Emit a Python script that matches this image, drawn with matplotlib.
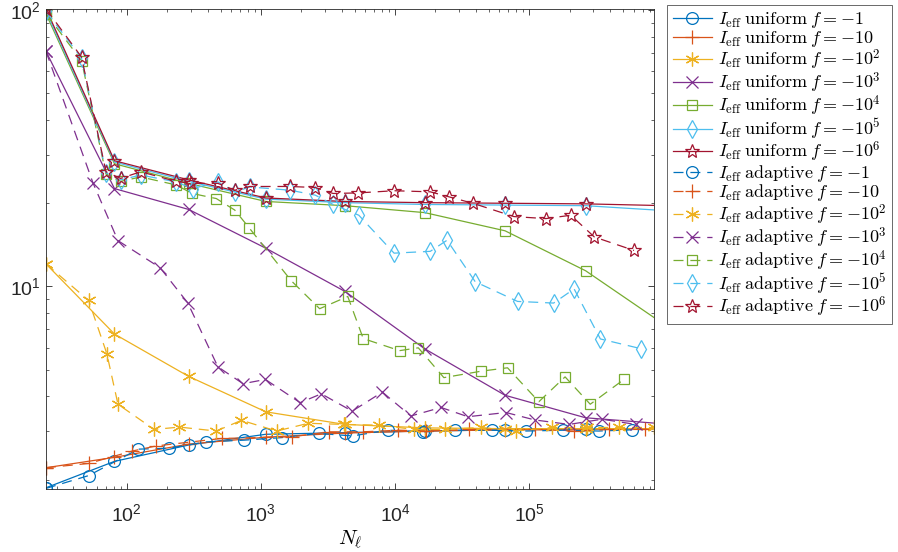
import matplotlib
matplotlib.use('Agg')
import matplotlib.pyplot as plt
from matplotlib.font_manager import FontProperties

plt.rcParams['font.family'] = ['Liberation Sans', 'DejaVu Sans']

# uniform refinement
un_N = [25, 81, 289, 1089, 4225, 16641, 66049, 263169, 1050625]
un_I1 = [1.87, 2.33, 2.67, 2.92, 2.96, 3.00, 3.03, 3.05, 3.06]
un_I10 = [2.21, 2.41, 2.69, 2.85, 2.95, 3.00, 3.03, 3.05, 3.06]
un_I100 = [12.07, 6.73, 4.73, 3.52, 3.17, 3.08, 3.06, 3.06, 3.06]
un_I1e3 = [70.9, 22.6, 19.0, 13.75, 9.6, 5.95, 4.04, 3.35, 3.18]
un_I1e4 = [97, 27.8, 23.6, 20.3, 19.6, 18.5, 15.9, 11.4, 7.2]
un_I1e5 = [99, 28.2, 24.0, 20.7, 20.1, 19.8, 19.7, 19.6, 18.8]
un_I1e6 = [101, 28.5, 24.3, 20.9, 20.3, 20.1, 20.0, 19.9, 19.6]

# adaptive refinement
ad_N1 = [25, 52, 122, 207, 391, 750, 1430, 2690, 4820, 8810, 16100, 28000,
         52700, 94000, 180000, 330000, 586000]
ad_I1 = [1.86, 2.07, 2.58, 2.60, 2.74, 2.78, 2.84, 2.94, 2.88, 3.02, 2.98,
         3.02, 3.02, 3.00, 3.02, 3.00, 3.03]
ad_N10 = [25, 52, 110, 166, 509, 1710, 3240, 5730, 10500, 17000, 35700,
          110000, 215000, 394000, 735000]
ad_I10 = [2.21, 2.29, 2.54, 2.65, 2.82, 2.86, 2.98, 2.98, 3.02, 3.00, 3.04,
          3.04, 3.00, 3.04, 3.04]
ad_N100 = [25, 52, 71, 86, 160, 247, 465, 716, 1310, 2260, 4140, 7590, 13900,
           23700, 44000, 79400, 147000, 270000, 466000, 850000]
ad_I100 = [12.07, 8.9, 5.72, 3.75, 3.04, 3.10, 3.00, 3.28, 3.00, 3.20, 3.17,
           3.15, 3.04, 3.04, 3.09, 3.00, 3.09, 3.09, 3.09, 3.09]
ad_N1e3 = [25, 56, 86, 177, 285, 478, 736, 1080, 1960, 2820, 4790, 8040,
           13100, 22000, 34900, 67100, 110000, 198000, 349000, 621000]
ad_I1e3 = [70.9, 23.7, 14.65, 11.7, 8.72, 5.12, 4.45, 4.61, 3.80, 4.09, 3.54,
           4.15, 3.40, 3.65, 3.38, 3.50, 3.29, 3.17, 3.31, 3.17]
ad_N1e4 = [25, 46, 70, 90, 127, 233, 307, 465, 638, 817, 1680, 2740, 4440,
           5790, 10800, 14900, 23100, 44000, 68900, 118000, 185000, 285000,
           508000]
ad_I1e4 = [97, 65.6, 25.5, 24.0, 24.9, 23.3, 21.7, 20.8, 18.9, 16.3, 10.5,
           8.31, 9.2, 6.48, 5.86, 6.0, 4.68, 4.94, 5.08, 3.83, 4.71, 3.75, 4.61]
ad_N1e5 = [25, 46, 70, 90, 127, 233, 310, 478, 638, 827, 1650, 2540, 3450,
           5370, 9830, 18300, 24400, 39600, 81800, 152000, 216000, 339000,
           677000]
ad_I1e5 = [99, 67, 25.8, 24.3, 25.3, 23.9, 22.6, 23.9, 22.0, 22.9, 22.3, 21.4,
           19.8, 18.1, 13.2, 13.4, 14.7, 10.4, 8.83, 8.71, 9.8, 6.46, 5.96]
ad_N1e6 = [25, 46, 70, 90, 127, 233, 302, 478, 638, 827, 1650, 2540, 3450,
           5320, 9830, 18300, 25200, 38000, 76800, 133000, 204000, 306000,
           604000]
ad_I1e6 = [101, 67.6, 26.0, 24.6, 26.0, 24.0, 23.6, 23.6, 22.3, 23.0, 23.0,
           22.8, 21.7, 21.8, 22.2, 22.0, 21.1, 20.0, 17.9, 17.6, 18.1, 15.1,
           13.5]

f_labels = ['-1', '-10', '-10^{2}', '-10^{3}', '-10^{4}', '-10^{5}', '-10^{6}']
colors = ['#0072BD', '#D95319', '#EDB120', '#7E2F8E', '#77AC30', '#4DBEEE',
          '#A2142F']
# matlab style markers: o + * x s d p (asterisk = 6-spoke, pentagram = star)
markers = ['o', '+', (6, 2, 0), 'x', 's', 'd', '*']
msizes = [8.5, 10, 10, 9, 7.5, 9, 10.5]

uniform = [un_I1, un_I10, un_I100, un_I1e3, un_I1e4, un_I1e5, un_I1e6]
adaptive = [(ad_N1, ad_I1), (ad_N10, ad_I10), (ad_N100, ad_I100),
            (ad_N1e3, ad_I1e3), (ad_N1e4, ad_I1e4), (ad_N1e5, ad_I1e5),
            (ad_N1e6, ad_I1e6)]

fig = plt.figure(figsize=(8.98, 5.52), dpi=100)
ax = fig.add_axes([0.0512, 0.114, 0.677, 0.870])

for i, I in enumerate(uniform):
    ax.plot(un_N, I, color=colors[i], marker=markers[i], ms=msizes[i],
            mfc='none', lw=0.9, mew=0.9,
            label=r'$I_{\mathrm{eff}}\;\mathrm{uniform}\;f=' + f_labels[i] + '$')
for i, (N, I) in enumerate(adaptive):
    ax.plot(N, I, color=colors[i], marker=markers[i], ms=msizes[i],
            mfc='none', lw=0.9, mew=0.9, ls=(0, (8, 5.5)),
            label=r'$I_{\mathrm{eff}}\;\mathrm{adaptive}\;f=' + f_labels[i] + '$')

ax.set_xscale('log')
ax.set_yscale('log')
ax.set_xlim(25, 8.5e5)
ax.set_ylim(1.85, 101)

ax.tick_params(which='both', direction='in', top=True, right=True,
               colors='#262626', labelsize=14)
ax.tick_params(axis='x', which='major', pad=10)
ax.tick_params(which='major', length=4.5, width=0.6)
ax.tick_params(which='minor', length=2.5, width=0.5)
for s in ax.spines.values():
    s.set_color('#262626')
    s.set_linewidth(0.6)

ax.set_xlabel(r'$N_\ell$', fontproperties=FontProperties(math_fontfamily='cm', size=15),
              labelpad=3)

leg = ax.legend(loc='upper left', bbox_to_anchor=(0.743, 0.991),
                bbox_transform=fig.transFigure,
                prop=FontProperties(math_fontfamily='cm', size=13),
                frameon=True, fancybox=False, edgecolor='#262626',
                handlelength=2.2, handletextpad=0.3, labelspacing=-0.08,
                borderpad=0.3, borderaxespad=0)
leg.get_frame().set_linewidth(0.6)

fig.savefig('out.png', dpi=100)
